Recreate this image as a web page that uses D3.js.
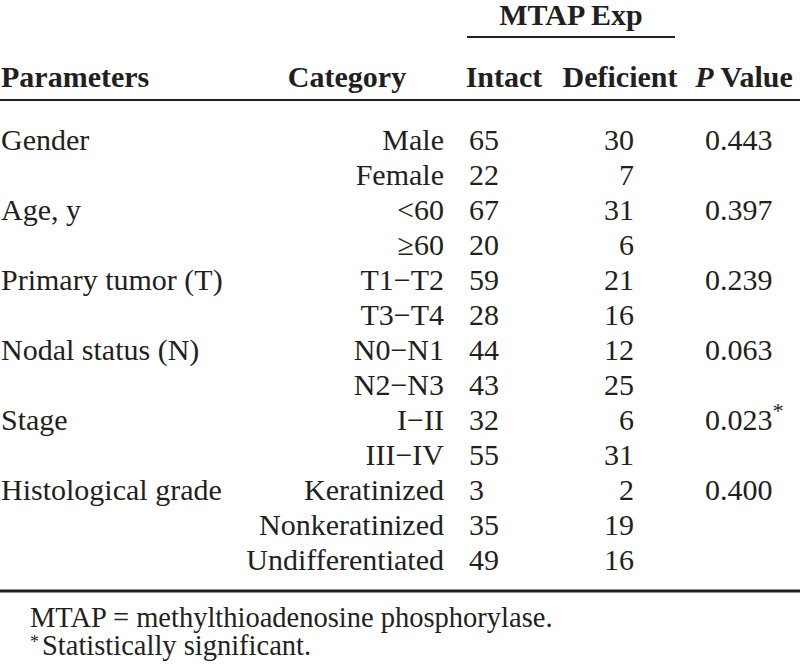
<!DOCTYPE html>
<html>
<head>
<meta charset="utf-8">
<script src="https://cdn.jsdelivr.net/npm/d3@7"></script>
<style>
  html, body { margin: 0; padding: 0; background: #fff; }
  svg { display: block; }
  text { font-family: "Liberation Serif", "Times New Roman", serif; fill: #231f20; }
</style>
</head>
<body>
<svg id="chart" width="800" height="668"></svg>
<script>
// ---- data ----
const parameters = ["Gender", "", "Age, y", "", "Primary tumor (T)", "", "Nodal status (N)", "", "Stage", "", "Histological grade", "", ""];
const categories = ["Male", "Female", "<60", "\u226560", "T1\u2212T2", "T3\u2212T4", "N0\u2212N1", "N2\u2212N3", "I\u2212II", "III\u2212IV", "Keratinized", "Nonkeratinized", "Undifferentiated"];
const intact = [65, 22, 67, 20, 59, 28, 44, 43, 32, 55, 3, 35, 49];
const deficient = [30, 7, 31, 6, 21, 16, 12, 25, 6, 31, 2, 19, 16];
const pValues = ["0.443", "", "0.397", "", "0.239", "", "0.063", "", "0.023", "", "0.400", "", ""];
const significant = [false, false, false, false, false, false, false, false, true, false, false, false, false];
const headers = ["Parameters", "Category", "Intact", "Deficient", "P Value"];
const groupHeader = "MTAP Exp";
const footnotes = ["MTAP = methylthioadenosine phosphorylase.", "Statistically significant."];

// ---- layout ----
const W = 800, H = 668;
const svg = d3.select("#chart");
const ink = "#231f20";
const fs = 30;

const y = d3.scaleLinear().domain([0, categories.length - 1]).range([150, 570]);

const col = {
  param: 1,        // left
  cat: 444,        // right
  catHead: 347,    // center
  intact: 469,     // left
  intactHead: 504, // center
  def: 634,        // right
  defHead: 620,    // center
  p: 705,          // left
  pHead: 744       // center
};

// group header
svg.append("text").attr("x", 571).attr("y", 25)
  .attr("text-anchor", "middle").attr("font-weight", "bold").attr("font-size", fs)
  .text(groupHeader);
svg.append("line").attr("x1", 467).attr("x2", 675).attr("y1", 37).attr("y2", 37)
  .attr("stroke", ink).attr("stroke-width", 2);

// column headers
const headY = 87;
const hdr = [
  {t: headers[0], x: col.param, a: "start"},
  {t: headers[1], x: col.catHead, a: "middle"},
  {t: headers[2], x: col.intactHead, a: "middle"},
  {t: headers[3], x: col.defHead, a: "middle"}
];
svg.selectAll("text.hdr").data(hdr).join("text").attr("class", "hdr")
  .attr("x", d => d.x).attr("y", headY).attr("text-anchor", d => d.a)
  .attr("font-weight", "bold").attr("font-size", fs).text(d => d.t);
const pv = svg.append("text").attr("x", col.pHead).attr("y", headY)
  .attr("text-anchor", "middle").attr("font-weight", "bold").attr("font-size", fs);
pv.append("tspan").attr("font-style", "italic").text(headers[4].split(" ")[0]);
pv.append("tspan").text(" " + headers[4].split(" ")[1]);

svg.append("line").attr("x1", 0).attr("x2", W).attr("y1", 100).attr("y2", 100)
  .attr("stroke", ink).attr("stroke-width", 2);

// rows
const rows = categories.map((c, i) => ({i, param: parameters[i], cat: c, intact: intact[i], def: deficient[i], p: pValues[i], sig: significant[i]}));
const g = svg.append("g").attr("font-size", fs);
const r = g.selectAll("g.row").data(rows).join("g").attr("class", "row")
  .attr("transform", d => `translate(0,${y(d.i)})`);
r.append("text").attr("x", col.param).text(d => d.param);
r.append("text").attr("x", col.cat).attr("text-anchor", "end").text(d => d.cat);
r.append("text").attr("x", col.intact).text(d => d.intact);
r.append("text").attr("x", col.def).attr("text-anchor", "end").text(d => d.def);
const pt = r.append("text").attr("x", col.p);
pt.append("tspan").text(d => d.p);
pt.filter(d => d.sig).append("tspan").attr("dy", -12).attr("font-size", 22).text("*");

// bottom rule
svg.append("line").attr("x1", 0).attr("x2", W).attr("y1", 591).attr("y2", 591)
  .attr("stroke", ink).attr("stroke-width", 3);

// footnotes
const fn = svg.append("g").attr("font-size", 28.5);
fn.append("text").attr("x", 30).attr("y", 627).text(footnotes[0]);
fn.append("text").attr("x", 30).attr("y", 648).attr("font-size", 18).text("*");
fn.append("text").attr("x", 42).attr("y", 655).text(footnotes[1]);
</script>
</body>
</html>
